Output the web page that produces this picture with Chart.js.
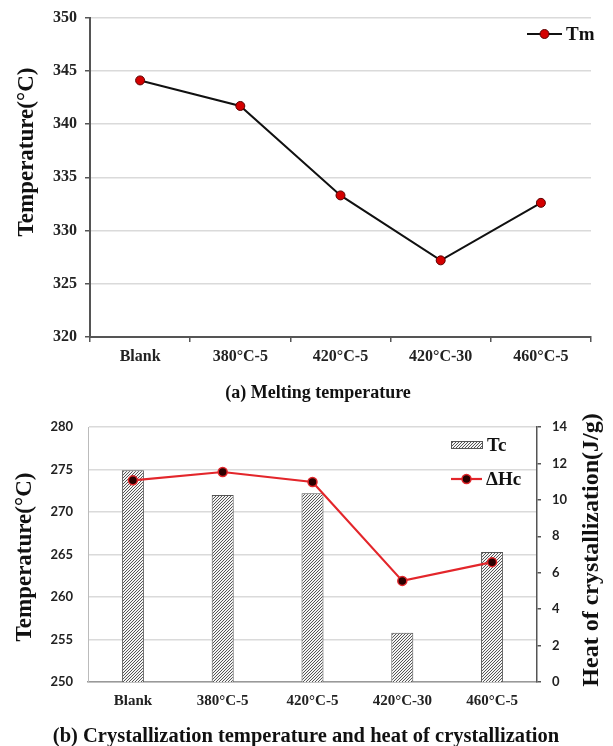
<!DOCTYPE html>
<html>
<head>
<meta charset="utf-8">
<script src="https://cdn.jsdelivr.net/npm/chart.js@4"></script>
<style>
    html, body { margin: 0; padding: 0; background: #fff; }
    #wrap { position: relative; width: 613px; height: 746px; }
    .box { position: absolute; left: 0; width: 613px; }
    .caption { position: absolute; font: bold 18px 'Liberation Serif', serif; color: #111; white-space: nowrap; transform: translate(-50%, -50%); }
</style>
</head>
<body>
<div id="wrap">
    <div class="box" style="top:0"><canvas id="melt" width="613" height="400"></canvas></div>
    <div class="box" style="top:400px"><canvas id="cryst" width="613" height="346"></canvas></div>
    <div class="caption" style="left:318px;top:392px">(a) Melting temperature</div>
    <div class="caption" style="left:306px;top:735px;font-size:20.5px">(b) Crystallization temperature and heat of crystallization</div>
</div>
<script>
const categories = ['Blank', '380°C-5', '420°C-5', '420°C-30', '460°C-5']
const tmValues = [344.1, 341.7, 333.3, 327.2, 332.6]
const tcValues = [274.9, 272.0, 272.2, 255.8, 265.3]
const dhcValues = [11.07, 11.53, 10.98, 5.55, 6.58]
const tmRange = [320, 350, 5]
const tcRange = [250, 280, 5]
const dhcRange = [0, 14, 2]

const serif = "'Liberation Serif', serif"
const sans = "Lato, 'Liberation Sans', sans-serif"

function makeHatch() {
    const c = document.createElement('canvas')
    c.width = 3
    c.height = 3
    const g = c.getContext('2d')
    g.fillStyle = '#f4f4f4'
    g.fillRect(0, 0, 3, 3)
    g.strokeStyle = '#555'
    g.lineWidth = 1
    g.beginPath()
    g.moveTo(0, 3); g.lineTo(3, 0)
    g.moveTo(-1, 1); g.lineTo(1, -1)
    g.moveTo(2, 4); g.lineTo(4, 2)
    g.stroke()
    return g.createPattern(c, 'repeat')
}

// axis titles + excel-like legend drawn straight on the canvas
const extras = {
    id: 'extras',
    afterDraw(chart, args, opts) {
        const ctx = chart.ctx
        ;(opts.titles || []).forEach(t => {
            ctx.save()
            ctx.translate(t.x, t.y)
            ctx.rotate(-Math.PI / 2)
            ctx.font = 'bold ' + t.size + 'px ' + serif
            ctx.fillStyle = '#111'
            ctx.textAlign = 'center'
            ctx.textBaseline = 'middle'
            ctx.fillText(t.text, 0, 0)
            ctx.restore()
        })
        ;(opts.legend || []).forEach(l => {
            const ds = chart.data.datasets[l.index]
            ctx.save()
            if (l.kind === 'box') {
                ctx.fillStyle = ds.backgroundColor
                ctx.fillRect(l.x, l.y - 4, l.w, 8)
                ctx.strokeStyle = ds.borderColor
                ctx.lineWidth = 1
                ctx.strokeRect(l.x + 0.5, l.y - 3.5, l.w - 1, 7)
            } else {
                ctx.strokeStyle = ds.borderColor
                ctx.lineWidth = ds.borderWidth
                ctx.beginPath()
                ctx.moveTo(l.x, l.y)
                ctx.lineTo(l.x + l.w, l.y)
                ctx.stroke()
                ctx.beginPath()
                ctx.arc(l.x + l.w / 2, l.y, ds.pointRadius, 0, Math.PI * 2)
                ctx.fillStyle = ds.pointBackgroundColor
                ctx.fill()
                ctx.lineWidth = ds.pointBorderWidth
                ctx.strokeStyle = ds.pointBorderColor
                ctx.stroke()
            }
            ctx.font = 'bold 19px ' + serif
            ctx.fillStyle = '#111'
            ctx.textBaseline = 'middle'
            ctx.fillText(ds.label, l.x + l.w + 4, l.y + 1)
            ctx.restore()
        })
    }
}

new Chart(document.getElementById('melt'), {
    type: 'line',
    data: {
        labels: categories,
        datasets: [{
            label: 'Tm',
            data: tmValues,
            borderColor: '#111',
            borderWidth: 2,
            pointRadius: 4.5,
            pointBackgroundColor: '#d40000',
            pointBorderColor: '#5a0000',
            pointBorderWidth: 1
        }]
    },
    options: {
        responsive: false,
        animation: false,
        devicePixelRatio: 1,
        layout: { padding: { top: 16, right: 22, left: 0, bottom: 0 } },
        plugins: {
            legend: { display: false },
            tooltip: { enabled: false },
            extras: {
                titles: [{ text: 'Temperature(°C)', x: 27, y: 152, size: 23 }],
                legend: [{ index: 0, kind: 'line', x: 527, y: 34, w: 35 }]
            }
        },
        scales: {
            x: {
                offset: true,
                grid: { offset: true, drawOnChartArea: false, tickLength: 5, tickColor: '#555', lineWidth: 1.5 },
                border: { color: '#555', width: 2 },
                ticks: { color: '#222', padding: 5, font: { family: serif, size: 16, weight: 'bold' } },
                afterFit(s) { s.height = 63 }
            },
            y: {
                min: tmRange[0],
                max: tmRange[1],
                grid: { color: '#dadada', lineWidth: 1.5, tickLength: 5, tickColor: '#555' },
                border: { color: '#555', width: 2 },
                ticks: { stepSize: tmRange[2], color: '#222', padding: 8, font: { family: serif, size: 16, weight: 'bold' } },
                afterFit(s) { s.width = 90 }
            }
        }
    },
    plugins: [extras]
})

new Chart(document.getElementById('cryst'), {
    data: {
        labels: categories,
        datasets: [{
            type: 'line',
            label: 'ΔHc',
            data: dhcValues,
            yAxisID: 'y1',
            order: 0,
            borderColor: '#e3262b',
            borderWidth: 2.2,
            pointRadius: 4.5,
            pointBackgroundColor: '#2a0000',
            pointBorderColor: '#e3262b',
            pointBorderWidth: 1.5
        }, {
            type: 'bar',
            label: 'Tc',
            data: tcValues,
            yAxisID: 'y',
            order: 1,
            backgroundColor: makeHatch(),
            borderColor: '#555',
            borderWidth: 1,
            categoryPercentage: 1,
            barPercentage: 0.245
        }]
    },
    options: {
        responsive: false,
        animation: false,
        devicePixelRatio: 1,
        layout: { padding: { top: 27, right: 0, left: 0, bottom: 0 } },
        plugins: {
            legend: { display: false },
            tooltip: { enabled: false },
            extras: {
                titles: [
                    { text: 'Temperature(°C)', x: 25, y: 157, size: 23 },
                    { text: 'Heat of crystallization(J/g)', x: 592, y: 150, size: 24 }
                ],
                legend: [
                    { index: 1, kind: 'box', x: 451, y: 45, w: 32 },
                    { index: 0, kind: 'line', x: 451, y: 79, w: 31 }
                ]
            }
        },
        scales: {
            x: {
                offset: true,
                grid: { drawOnChartArea: false, drawTicks: false },
                border: { color: '#999', width: 1.5 },
                ticks: { color: '#222', padding: 10, font: { family: serif, size: 15, weight: 'bold' } },
                afterFit(s) { s.height = 64 }
            },
            y: {
                position: 'left',
                min: tcRange[0],
                max: tcRange[1],
                grid: { color: '#dadada', lineWidth: 1.5, drawTicks: false },
                border: { color: '#bbb', width: 1 },
                ticks: { stepSize: tcRange[2], color: '#222', padding: 15, font: { family: sans, size: 13, weight: 'bold' } },
                afterFit(s) { s.width = 88 }
            },
            y1: {
                position: 'right',
                min: dhcRange[0],
                max: dhcRange[1],
                grid: { drawOnChartArea: false, tickLength: 4, tickColor: '#555', lineWidth: 1.5 },
                border: { color: '#555', width: 1.5 },
                ticks: { stepSize: dhcRange[2], color: '#222', padding: 11, font: { family: sans, size: 13, weight: 'bold' } },
                afterFit(s) { s.width = 76 }
            }
        }
    },
    plugins: [extras]
})
</script>
</body>
</html>
